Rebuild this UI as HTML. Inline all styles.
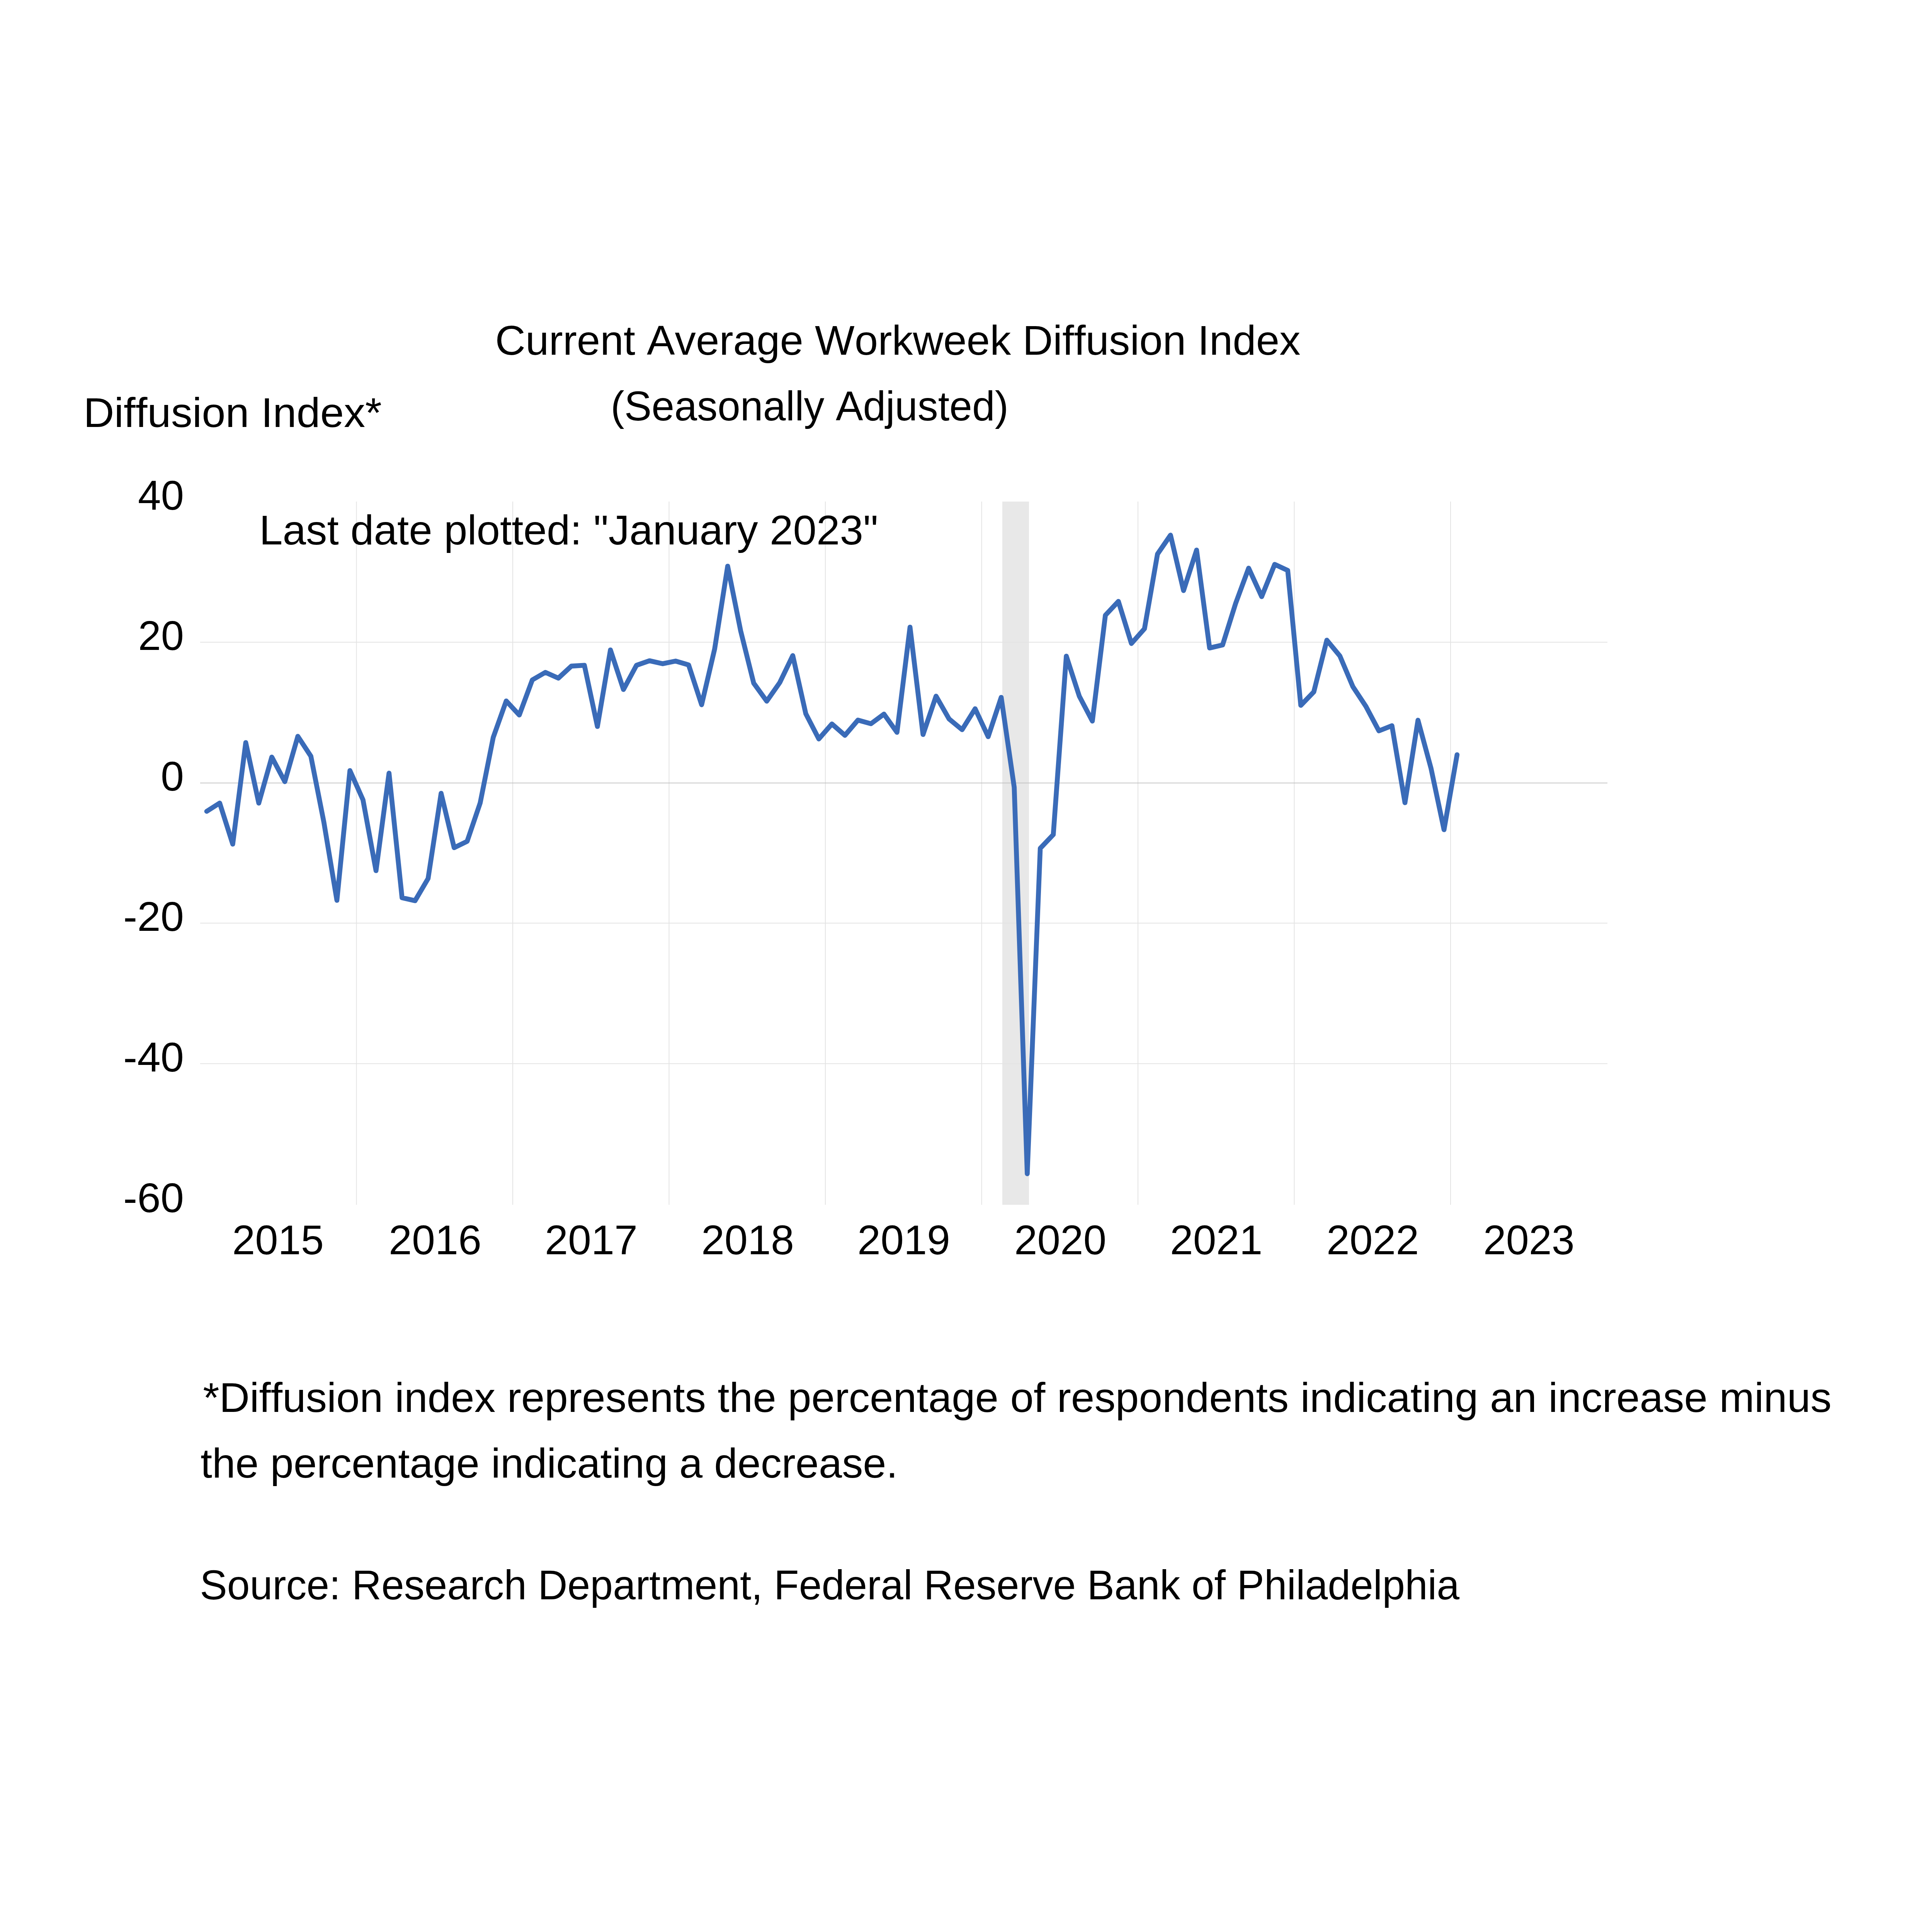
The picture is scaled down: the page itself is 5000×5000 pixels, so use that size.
<!DOCTYPE html>
<html><head><meta charset="utf-8"><style>
html,body{margin:0;padding:0;background:#fff;width:5000px;height:5000px;overflow:hidden}
svg{display:block}
text{font-family:"Liberation Sans",sans-serif;fill:#000;font-variant-ligatures:none;font-kerning:none}
</style></head><body>
<svg width="5000" height="5000" viewBox="0 0 5000 5000">
<rect x="0" y="0" width="5000" height="5000" fill="#fff"/>
<rect x="2594" y="1298" width="69" height="1820" fill="#e8e8e8"/>
<rect x="518" y="1661" width="3642" height="2" fill="#e3e3e3"/>
<rect x="518" y="2388" width="3642" height="2" fill="#e3e3e3"/>
<rect x="518" y="2751.7" width="3642" height="2" fill="#e3e3e3"/>
<rect x="921.5" y="1298" width="2" height="1820" fill="#e3e3e3"/>
<rect x="1326.0" y="1298" width="2" height="1820" fill="#e3e3e3"/>
<rect x="1730.5" y="1298" width="2" height="1820" fill="#e3e3e3"/>
<rect x="2135.0" y="1298" width="2" height="1820" fill="#e3e3e3"/>
<rect x="2539.5" y="1298" width="2" height="1820" fill="#e3e3e3"/>
<rect x="2944.0" y="1298" width="2" height="1820" fill="#e3e3e3"/>
<rect x="3348.5" y="1298" width="2" height="1820" fill="#e3e3e3"/>
<rect x="3753.0" y="1298" width="2" height="1820" fill="#e3e3e3"/>
<rect x="518" y="2025.5" width="3642" height="1.8" fill="#bfbfbf"/>
<polyline points="534.9,2099.7 568.6,2078.3 602.3,2184.6 636.0,1921.7 669.7,2078.5 703.4,1959.2 737.1,2022.9 770.8,1905.6 804.5,1957.0 838.2,2128.0 871.9,2330.0 905.6,1994.2 939.4,2070.0 973.1,2253.3 1006.8,2000.9 1040.5,2323.3 1074.2,2331.0 1107.9,2273.6 1141.6,2053.1 1175.3,2193.8 1209.0,2177.3 1242.7,2078.0 1276.4,1908.7 1310.1,1814.0 1343.9,1850.5 1377.6,1759.6 1411.3,1740.1 1445.0,1755.0 1478.7,1723.9 1512.4,1721.7 1546.1,1880.1 1579.8,1682.0 1613.5,1784.5 1647.2,1721.7 1680.9,1710.0 1714.6,1717.7 1748.4,1710.9 1782.1,1720.8 1815.8,1823.9 1849.5,1679.5 1883.2,1465.2 1916.9,1632.9 1950.6,1768.0 1984.3,1814.6 2018.0,1766.5 2051.7,1696.6 2085.4,1847.2 2119.1,1912.4 2152.9,1873.6 2186.6,1903.1 2220.3,1863.6 2254.0,1873.0 2287.7,1848.1 2321.4,1895.3 2355.1,1623.0 2388.8,1900.9 2422.5,1801.6 2456.2,1860.6 2489.9,1888.5 2523.6,1834.2 2557.4,1906.5 2591.1,1804.7 2624.8,2037.6 2658.5,3037.7 2692.2,2195.3 2725.9,2160.0 2759.6,1698.0 2793.3,1801.9 2827.0,1866.2 2860.7,1592.2 2894.4,1556.4 2928.1,1665.4 2961.9,1627.2 2995.6,1433.8 3029.3,1384.9 3063.0,1528.4 3096.7,1423.6 3130.4,1677.0 3164.1,1669.1 3197.8,1561.6 3231.5,1470.3 3265.2,1544.1 3298.9,1460.6 3332.6,1476.2 3366.4,1825.5 3400.1,1790.6 3433.8,1656.7 3467.5,1697.4 3501.2,1777.0 3534.9,1828.0 3568.6,1891.5 3602.3,1878.1 3636.0,2077.4 3669.7,1863.9 3703.4,1988.1 3737.1,2147.3 3770.9,1953.2" fill="none" stroke="#3a6bb8" stroke-width="12.6" stroke-linejoin="round" stroke-linecap="round"/>
<text x="1281.5" y="918.0" font-size="107.5" textLength="2084.0" lengthAdjust="spacingAndGlyphs">Current Average Workweek Diffusion Index</text>
<text x="1580.5" y="1088.0" font-size="107.5" textLength="1029.5" lengthAdjust="spacingAndGlyphs">(Seasonally Adjusted)</text>
<text x="216.0" y="1105.0" font-size="107.5" textLength="772.0" lengthAdjust="spacingAndGlyphs">Diffusion Index*</text>
<text x="356.9" y="1319.0" font-size="107.5" textLength="119.0" lengthAdjust="spacingAndGlyphs">40</text>
<text x="357.6" y="1682.0" font-size="107.5" textLength="118.3" lengthAdjust="spacingAndGlyphs">20</text>
<text x="416.0" y="2046.0" font-size="107.5" textLength="60.0" lengthAdjust="spacingAndGlyphs">0</text>
<text x="319.0" y="2409.0" font-size="107.5" textLength="157.0" lengthAdjust="spacingAndGlyphs">-20</text>
<text x="319.0" y="2773.0" font-size="107.5" textLength="157.0" lengthAdjust="spacingAndGlyphs">-40</text>
<text x="319.0" y="3137.0" font-size="107.5" textLength="157.0" lengthAdjust="spacingAndGlyphs">-60</text>
<text x="671.0" y="1409.0" font-size="107.5" textLength="1601.7" lengthAdjust="spacingAndGlyphs">Last date plotted: &quot;January 2023&quot;</text>
<text x="601.0" y="3246.0" font-size="107.5" textLength="237.0" lengthAdjust="spacingAndGlyphs">2015</text>
<text x="1006.0" y="3246.0" font-size="107.5" textLength="240.0" lengthAdjust="spacingAndGlyphs">2016</text>
<text x="1410.0" y="3246.0" font-size="107.5" textLength="240.0" lengthAdjust="spacingAndGlyphs">2017</text>
<text x="1815.0" y="3246.0" font-size="107.5" textLength="240.0" lengthAdjust="spacingAndGlyphs">2018</text>
<text x="2219.0" y="3246.0" font-size="107.5" textLength="240.0" lengthAdjust="spacingAndGlyphs">2019</text>
<text x="2625.0" y="3246.0" font-size="107.5" textLength="238.2" lengthAdjust="spacingAndGlyphs">2020</text>
<text x="3028.0" y="3246.0" font-size="107.5" textLength="239.2" lengthAdjust="spacingAndGlyphs">2021</text>
<text x="3433.0" y="3246.0" font-size="107.5" textLength="239.2" lengthAdjust="spacingAndGlyphs">2022</text>
<text x="3838.8" y="3246.0" font-size="107.5" textLength="236.1" lengthAdjust="spacingAndGlyphs">2023</text>
<text x="525.2" y="3654.0" font-size="107.5" textLength="4214.8" lengthAdjust="spacingAndGlyphs">*Diffusion index represents the percentage of respondents indicating an increase minus</text>
<text x="519.0" y="3824.0" font-size="107.5" textLength="1804.5" lengthAdjust="spacingAndGlyphs">the percentage indicating a decrease.</text>
<text x="517.2" y="4139.0" font-size="107.5" textLength="3259.8" lengthAdjust="spacingAndGlyphs">Source: Research Department, Federal Reserve Bank of Philadelphia</text>
</svg>
</body></html>
